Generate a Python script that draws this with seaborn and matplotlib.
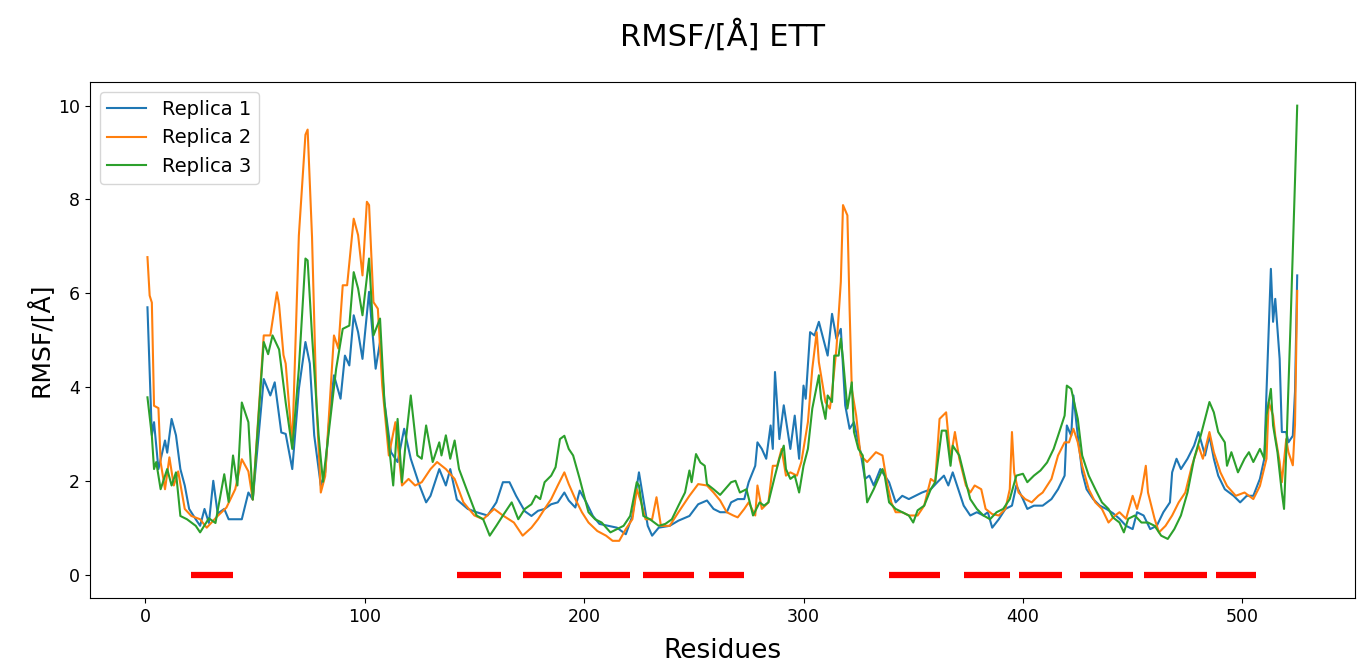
import matplotlib
matplotlib.use("Agg")
import matplotlib.pyplot as plt
import seaborn as sns
import pandas as pd

# ---------------- data ----------------
res1 = [1, 3, 4, 6, 9, 10, 12, 14, 16, 18, 20, 23, 25, 27, 29, 31, 33, 36, 38, 44, 47, 49,
        54, 57, 59, 62, 64, 67, 70, 73, 75, 77, 80, 82, 84, 86, 89, 91, 93, 95, 97, 99,
        102, 103, 105, 107, 109, 112, 115, 118, 121, 125, 128, 130, 134, 137, 139, 142,
        147, 151, 156, 160, 163, 166, 169, 173, 176, 179, 182, 185, 188, 191, 193, 196,
        198, 201, 204, 207, 211, 215, 219, 222, 225, 227, 229, 231, 234, 239, 243, 248,
        252, 256, 259, 262, 265, 267, 270, 273, 275, 278, 279, 281, 283, 285, 286, 287,
        289, 291, 294, 296, 298, 300, 301, 303, 305, 307, 309, 311, 313, 315, 317, 319,
        321, 323, 326, 328, 330, 332, 335, 337, 339, 342, 345, 348, 351, 354, 358, 361,
        364, 366, 368, 371, 373, 376, 379, 382, 384, 386, 389, 392, 395, 397, 400, 402,
        405, 409, 413, 416, 419, 420, 422, 423, 425, 427, 429, 432, 435, 438, 441, 444,
        447, 450, 452, 455, 458, 461, 464, 467, 468, 470, 472, 475, 478, 480, 483, 485,
        487, 489, 492, 496, 499, 502, 505, 508, 510, 511, 513, 514, 515, 517, 518, 520,
        521, 523, 524, 525]
rmsf1 = [5.7, 2.97, 3.25, 2.25, 2.86, 2.6, 3.32, 2.97, 2.25, 1.9, 1.4, 1.18, 1.04, 1.4, 1.1,
         2.0, 1.3, 1.4, 1.18, 1.18, 1.75, 1.6, 4.17, 3.82, 4.1, 3.03, 3.0, 2.25, 3.96, 4.96,
         4.5, 2.97, 1.9, 2.18, 3.4, 4.25, 3.75, 4.67, 4.46, 5.53, 5.17, 4.6, 6.03, 5.46, 4.39,
         4.96, 3.68, 2.61, 2.4, 3.11, 2.47, 1.9, 1.54, 1.68, 2.25, 1.9, 2.25, 1.6, 1.4, 1.33,
         1.26, 1.54, 1.97, 1.97, 1.68, 1.35, 1.25, 1.36, 1.4, 1.5, 1.54, 1.75, 1.58, 1.43,
         1.79, 1.54, 1.25, 1.08, 1.04, 1.0, 0.86, 1.25, 2.18, 1.61, 1.04, 0.83, 1.0, 1.04,
         1.15, 1.25, 1.5, 1.58, 1.4, 1.33, 1.33, 1.54, 1.61, 1.61, 1.97, 2.32, 2.82, 2.68,
         2.47, 3.18, 2.68, 4.32, 2.89, 3.61, 2.68, 3.39, 2.47, 4.03, 3.75, 5.17, 5.1, 5.39,
         5.03, 4.67, 5.56, 5.03, 5.24, 3.61, 3.11, 3.25, 2.61, 2.04, 2.11, 1.9, 2.25, 2.11,
         1.97, 1.54, 1.68, 1.61, 1.68, 1.75, 1.82, 1.97, 2.11, 1.9, 2.18, 1.75, 1.47, 1.26,
         1.33, 1.26, 1.33, 1.0, 1.18, 1.4, 1.47, 1.9, 1.61, 1.4, 1.47, 1.47, 1.61, 1.82, 2.11,
         3.18, 2.96, 3.82, 2.96, 2.18, 1.82, 1.61, 1.47, 1.4, 1.31, 1.19, 1.04, 0.97, 1.33,
         1.26, 0.97, 1.04, 1.33, 1.54, 2.18, 2.47, 2.25, 2.47, 2.75, 3.04, 2.54, 2.96, 2.47,
         2.11, 1.82, 1.68, 1.54, 1.68, 1.68, 2.04, 2.47, 3.89, 6.52, 5.39, 5.88, 4.6, 3.04,
         3.04, 2.82, 2.96, 3.9, 6.38]

res2 = [1, 2, 3, 4, 6, 7, 9, 11, 13, 15, 18, 21, 25, 28, 33, 37, 41, 44, 47, 49, 54, 57,
        60, 61, 63, 64, 67, 70, 73, 74, 76, 78, 80, 82, 86, 88, 90, 92, 95, 97, 99, 101,
        102, 104, 106, 108, 111, 114, 117, 120, 123, 126, 130, 133, 137, 141, 145, 150,
        154, 159, 163, 168, 172, 176, 179, 182, 185, 188, 191, 193, 196, 199, 202, 206,
        210, 213, 216, 219, 222, 224, 226, 228, 231, 233, 235, 239, 243, 248, 252, 256,
        259, 262, 265, 268, 270, 273, 275, 278, 279, 281, 284, 286, 288, 290, 292, 294,
        297, 299, 302, 304, 306, 307, 310, 312, 313, 315, 317, 318, 320, 321, 322, 324,
        326, 329, 333, 336, 338, 340, 342, 345, 348, 352, 355, 358, 360, 362, 365, 367,
        369, 371, 374, 376, 378, 381, 383, 386, 389, 392, 394, 395, 396, 398, 401, 404,
        407, 409, 413, 416, 419, 421, 423, 425, 427, 430, 433, 436, 439, 442, 444, 447,
        450, 452, 454, 456, 457, 460, 462, 465, 468, 471, 474, 477, 480, 482, 485, 487,
        490, 493, 497, 501, 505, 508, 511, 512, 514, 515, 517, 518, 520, 521, 523, 524, 525]
rmsf2 = [6.77, 5.95, 5.8, 3.6, 3.55, 2.4, 1.82, 2.5, 1.9, 2.2, 1.4, 1.25, 1.18, 1.0, 1.25,
         1.43, 1.82, 2.46, 2.2, 1.6, 5.1, 5.1, 6.02, 5.75, 4.68, 4.5, 2.75, 7.23, 9.38, 9.49,
         7.2, 3.67, 1.75, 2.1, 5.1, 4.82, 6.17, 6.17, 7.59, 7.24, 6.38, 7.95, 7.88, 5.81, 5.67,
         4.03, 2.54, 3.25, 1.9, 2.04, 1.9, 1.97, 2.25, 2.4, 2.25, 2.04, 1.54, 1.26, 1.18, 1.4,
         1.26, 1.11, 0.83, 1.0, 1.18, 1.4, 1.61, 1.9, 2.18, 1.93, 1.61, 1.33, 1.11, 0.93, 0.83,
         0.72, 0.72, 0.97, 1.18, 1.82, 1.54, 1.18, 1.18, 1.65, 1.04, 1.04, 1.33, 1.68, 1.93,
         1.9, 1.75, 1.58, 1.33, 1.26, 1.22, 1.4, 1.54, 1.26, 1.9, 1.4, 1.54, 2.32, 2.32, 2.68,
         2.11, 2.18, 2.11, 2.4, 3.25, 4.39, 5.17, 4.53, 3.68, 3.54, 3.89, 4.82, 6.24, 7.88,
         7.66, 5.67, 3.96, 3.39, 2.54, 2.4, 2.61, 2.54, 1.97, 1.54, 1.33, 1.33, 1.26, 1.26,
         1.47, 2.04, 1.97, 3.32, 3.46, 2.47, 3.04, 2.47, 1.9, 1.75, 1.9, 1.82, 1.4, 1.29, 1.26,
         1.4, 1.82, 3.04, 2.18, 1.75, 1.61, 1.54, 1.68, 1.75, 2.04, 2.54, 2.82, 2.82, 3.11,
         2.82, 2.32, 1.82, 1.54, 1.4, 1.11, 1.26, 1.33, 1.19, 1.68, 1.4, 1.75, 2.32, 1.75,
         1.19, 0.9, 1.04, 1.26, 1.54, 1.75, 2.32, 2.75, 2.47, 3.04, 2.61, 2.18, 1.89, 1.68,
         1.75, 1.61, 1.89, 2.47, 3.68, 3.39, 2.96, 2.4, 1.97, 2.89, 2.61, 2.33, 3.2, 6.05]

res3 = [1, 3, 4, 5, 7, 10, 12, 14, 16, 19, 23, 25, 29, 32, 36, 38, 40, 42, 44, 47, 49, 54,
        56, 58, 61, 64, 67, 70, 73, 74, 76, 79, 81, 84, 87, 90, 93, 95, 97, 99, 102, 104,
        107, 109, 113, 115, 117, 119, 121, 124, 126, 128, 131, 134, 135, 137, 139, 141,
        143, 147, 151, 154, 157, 160, 163, 167, 170, 173, 176, 178, 180, 182, 185, 187,
        189, 191, 193, 195, 198, 200, 202, 205, 208, 212, 215, 218, 221, 224, 225, 227,
        230, 234, 237, 240, 243, 246, 248, 249, 251, 253, 255, 256, 259, 262, 265, 267,
        269, 271, 274, 277, 280, 282, 284, 287, 289, 291, 292, 294, 296, 298, 300, 302,
        304, 307, 308, 310, 311, 313, 314, 316, 317, 318, 320, 322, 323, 325, 327, 329,
        332, 336, 337, 339, 342, 345, 348, 350, 352, 355, 358, 360, 363, 365, 367, 368,
        371, 374, 376, 379, 382, 385, 388, 391, 394, 397, 400, 402, 405, 408, 411, 414,
        416, 419, 420, 422, 425, 427, 430, 433, 436, 439, 441, 444, 446, 448, 451, 454,
        457, 460, 463, 466, 469, 472, 475, 478, 481, 483, 485, 487, 489, 492, 493, 495,
        498, 501, 503, 505, 508, 510, 511, 513, 514, 516, 518, 519, 520, 521, 522, 523,
        524, 525]
rmsf3 = [3.78, 2.96, 2.25, 2.4, 1.82, 2.25, 1.9, 2.18, 1.25, 1.18, 1.04, 0.9, 1.2, 1.1,
         2.14, 1.55, 2.54, 1.9, 3.67, 3.25, 1.6, 4.96, 4.7, 5.1, 4.8, 3.67, 2.68, 4.39, 6.74,
         6.7, 5.1, 2.97, 1.98, 3.18, 4.39, 5.24, 5.31, 6.45, 6.1, 5.53, 6.74, 5.1, 5.46, 3.68,
         1.9, 3.32, 1.97, 2.97, 3.82, 2.54, 2.47, 3.18, 2.4, 2.82, 2.54, 2.97, 2.47, 2.86,
         2.25, 1.75, 1.26, 1.18, 0.83, 1.04, 1.26, 1.54, 1.18, 1.4, 1.5, 1.68, 1.61, 1.97,
         2.11, 2.29, 2.89, 2.96, 2.68, 2.54, 2.04, 1.68, 1.33, 1.18, 1.11, 0.9, 0.97, 1.04,
         1.25, 1.97, 1.9, 1.25, 1.18, 1.04, 1.08, 1.18, 1.47, 1.75, 2.22, 1.97, 2.57, 2.39,
         2.32, 1.93, 1.82, 1.7, 1.86, 1.97, 2.0, 1.75, 1.82, 1.26, 1.54, 1.47, 1.54, 2.11,
         2.47, 2.75, 2.25, 2.04, 2.11, 1.75, 2.32, 2.68, 3.54, 4.25, 3.75, 3.32, 3.82, 3.68,
         4.67, 4.67, 5.03, 4.6, 3.54, 4.1, 3.04, 2.68, 2.54, 1.54, 1.82, 2.25, 2.11, 1.54,
         1.4, 1.33, 1.26, 1.11, 1.37, 1.47, 1.82, 1.97, 3.07, 3.07, 2.32, 2.75, 2.54, 1.97,
         1.61, 1.4, 1.26, 1.18, 1.33, 1.4, 1.61, 2.11, 2.15, 1.97, 2.11, 2.22, 2.39, 2.68,
         2.96, 3.39, 4.03, 3.96, 3.32, 2.54, 2.11, 1.82, 1.54, 1.4, 1.22, 1.11, 0.9, 1.19,
         1.26, 1.11, 1.11, 1.04, 0.83, 0.76, 0.97, 1.26, 1.75, 2.47, 2.96, 3.32, 3.68, 3.46,
         3.04, 2.82, 2.32, 2.61, 2.18, 2.47, 2.61, 2.4, 2.68, 2.47, 3.39, 3.96, 3.18, 2.61,
         1.75, 1.4, 2.6, 4.0, 5.4, 6.9, 8.4, 10.0]

replicas = ["Replica 1", "Replica 2", "Replica 3"]
seg_start = [21, 142, 172, 198, 227, 257, 339, 373, 398, 426, 455, 488]
seg_end = [40, 162, 190, 221, 250, 273, 362, 394, 418, 450, 484, 506]

title_text = "RMSF/[\u00c5] ETT"
x_label = "Residues"
y_label = "RMSF/[\u00c5]"

# ---------------- build long-form table ----------------
frames = []
for name, r, v in zip(replicas, [res1, res2, res3], [rmsf1, rmsf2, rmsf3]):
    frames.append(pd.DataFrame({"Residue": r, "RMSF": v, "Replica": name}))
df = pd.concat(frames, ignore_index=True)

# ---------------- plot ----------------
plt.rcParams["font.family"] = ["DejaVu Sans"]
fig = plt.figure(figsize=(13.57, 6.63), dpi=100)
ax = fig.add_axes([0.0663, 0.098, 0.932, 0.778])

sns.lineplot(data=df, x="Residue", y="RMSF", hue="Replica",
             palette=["#1f77b4", "#ff7f0e", "#2ca02c"], linewidth=1.5,
             errorbar=None, sort=False, ax=ax)

ax.hlines(y=[0] * len(seg_start), xmin=seg_start, xmax=seg_end,
          colors="red", linewidth=4.5)

ax.set_xticks([0, 100, 200, 300, 400, 500])
ax.set_yticks([0, 2, 4, 6, 8, 10])
ax.tick_params(labelsize=12.5)
ax.set_xlabel(x_label, fontsize=19, labelpad=9)
ax.set_ylabel(y_label, fontsize=18)
ax.set_title(title_text, fontsize=22, pad=26)
ax.legend(loc="upper left", fontsize=14)
for s in ax.spines.values():
    s.set_visible(True)
    s.set_color("black")

fig.savefig("out.png", dpi=100)
